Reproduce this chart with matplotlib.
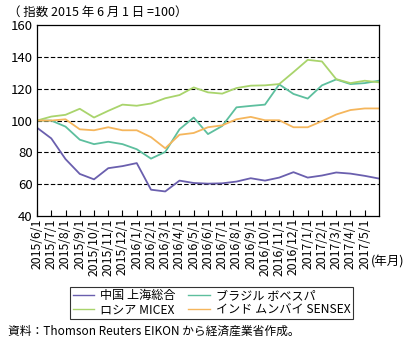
import matplotlib
matplotlib.use("Agg")
import matplotlib.pyplot as plt
from matplotlib.lines import Line2D

plt.rcParams['font.family'] = ['Noto Sans CJK JP', 'DejaVu Sans']

months = ["2015/6/1", "2015/7/1", "2015/8/1", "2015/9/1", "2015/10/1", "2015/11/1",
          "2015/12/1", "2016/1/1", "2016/2/1", "2016/3/1", "2016/4/1", "2016/5/1",
          "2016/6/1", "2016/7/1", "2016/8/1", "2016/9/1", "2016/10/1", "2016/11/1",
          "2016/12/1", "2017/1/1", "2017/2/1", "2017/3/1", "2017/4/1", "2017/5/1"]

china = [95.5, 88.8, 75.8, 66.5, 63.1, 70.1, 71.4, 73.3, 56.6, 55.5, 62.3, 60.8,
         60.4, 60.6, 61.7, 63.8, 62.3, 64.2, 67.6, 64.2, 65.5, 67.4, 66.7, 65.3, 63.6]
brazil = [100, 100, 96.2, 88.0, 85.2, 86.7, 85.2, 82.0, 76.1, 80.3, 94.5, 101.9,
          91.5, 96.6, 108.3, 109.2, 110.0, 122.7, 116.7, 113.8, 122.1, 125.8, 122.9, 123.5, 125.0]
russia = [100, 102.5, 103.6, 107.4, 101.9, 106.1, 110.0, 109.3, 110.7, 114.0, 116.0, 120.8,
          117.7, 116.9, 120.4, 121.9, 122.1, 122.9, 130.4, 138.1, 137.1, 126.0, 123.5, 125.0, 124.0]
india = [100, 100, 100.8, 94.5, 93.9, 95.8, 93.9, 93.9, 89.6, 82.6, 91.1, 92.2,
         95.8, 97.0, 100.8, 102.3, 100.2, 100.2, 95.8, 95.8, 99.6, 103.8, 106.6, 107.6, 107.6]

names = ["中国 上海総合", "ブラジル ボベスパ", "ロシア MICEX", "インド ムンバイ SENSEX"]
colors = ["#6a5fae", "#5dbf9e", "#a9d46c", "#f5b65c"]

fig = plt.figure(figsize=(4.09, 3.42), dpi=100)
ax = fig.add_axes([0.0905, 0.368, 0.836, 0.559])

x = list(range(len(china)))
series = [china, brazil, russia, india]
for s, c, n in zip(series, colors, names):
    ax.plot(x, s, color=c, lw=1.3, label=n)

ax.set_xlim(0, 24)
ax.set_ylim(40, 160)
ax.set_yticks([40, 60, 80, 100, 120, 140, 160])
ax.set_xticks(range(len(months)))
ax.set_xticklabels(months, rotation=90, fontsize=8.8)
ax.tick_params(axis='x', direction='in', length=4, width=0.8, pad=1.5)
ax.tick_params(axis='y', length=0, labelsize=9.5, pad=3)
for v in [60, 80, 100, 120, 140]:
    ax.axhline(v, color='black', lw=0.8, ls=(0, (4, 2)), zorder=0)
for sp in ax.spines.values():
    sp.set_linewidth(0.9)

fig.text(0.02, 0.965, "（ 指数 2015 年 6 月 1 日 =100）", fontsize=9, va='center', ha='left')
fig.text(0.908, 0.235, "(年月)", fontsize=9, va='center', ha='left')

handles = [Line2D([], [], color=colors[i], lw=1.0) for i in [0, 2, 1, 3]]
leg = fig.legend(handles, [names[i] for i in [0, 2, 1, 3]],
                 ncol=2, loc='center', bbox_to_anchor=(0.517, 0.115),
                 fontsize=8.7, frameon=True, fancybox=False, edgecolor='black',
                 handlelength=1.8, handletextpad=0.5, columnspacing=1.0,
                 borderpad=0.2, labelspacing=0.1, borderaxespad=0)
leg.get_frame().set_linewidth(0.8)

fig.text(0.02, 0.03, "資料：Thomson Reuters EIKON から経済産業省作成。", fontsize=8.5, va='center', ha='left')

fig.savefig("out.png", dpi=100)
